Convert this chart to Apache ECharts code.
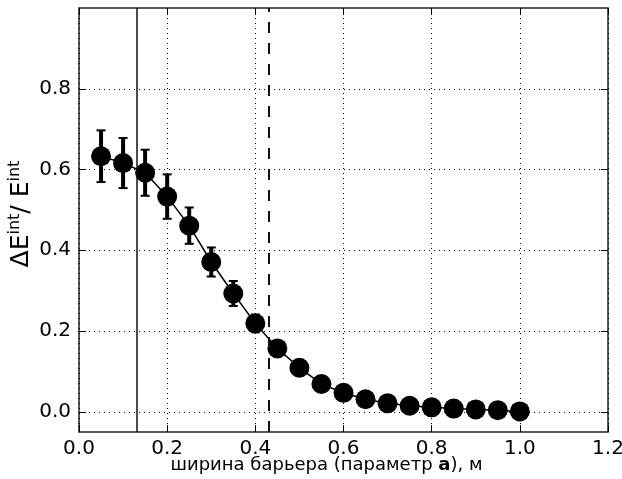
<!DOCTYPE html>
<html>
<head>
<meta charset="utf-8">
<script src="https://cdn.jsdelivr.net/npm/echarts@6/dist/echarts.min.js"></script>
<style>
html,body{margin:0;padding:0;background:#fff;}
#chart{width:622px;height:479px;}
</style>
</head>
<body>
<div id="chart"></div>
<script>
// Data
var xValues = [0.05,0.10,0.15,0.20,0.25,0.30,0.35,0.40,0.45,0.50,0.55,0.60,0.65,0.70,0.75,0.80,0.85,0.90,0.95,1.00];
var yValues = [0.633,0.616,0.592,0.533,0.461,0.371,0.293,0.219,0.157,0.109,0.069,0.047,0.031,0.021,0.015,0.011,0.008,0.006,0.004,0.001];
var yErrors = [0.064,0.062,0.057,0.055,0.045,0.036,0.031,0.022,0.015,0.011,0.008,0.006,0.004,0.003,0.002,0.002,0.001,0.001,0.001,0.001];
var xTicks = [0,0.2,0.4,0.6,0.8,1.0,1.2];
var yTicks = [0,0.2,0.4,0.6,0.8];
var solidLineX = 0.133;
var dashedLineX = 0.43;
var xTitle = ['ширина барьера (параметр ', 'a', '), м'];

var font = 'DejaVu Sans';
var lineData = xValues.map(function(x,i){return [x, yValues[i]];});
var errData = xValues.map(function(x,i){return [x, yValues[i]-yErrors[i], yValues[i]+yErrors[i]];});

var chart = echarts.init(document.getElementById('chart'), null, {renderer:'canvas'});
var gridLine = {show:true, lineStyle:{color:'#000', width:1, type:[1,4]}};
var tickStyle = {show:true, inside:true, length:7, lineStyle:{color:'#000', width:1}};
chart.setOption({
  animation:false,
  backgroundColor:'#fff',
  grid:{left:79, right:14, top:8, bottom:47, containLabel:false, outerBoundsMode:'none', show:true, borderColor:'#222', borderWidth:1.5, backgroundColor:'transparent'},
  xAxis:[{
    type:'value', min:0, max:1.2, interval:0.2,
    axisLine:{show:false, onZero:false},
    axisTick:tickStyle,
    splitLine:gridLine,
    axisLabel:{color:'#000', fontFamily:font, fontSize:20, margin:7, formatter:function(v){return v.toFixed(1);}},
    name:'{n|' + xTitle[0] + '}{b|' + xTitle[1] + '}{n|' + xTitle[2] + '}',
    nameLocation:'middle', nameGap:24, nameMoveOverlap:false,
    nameTextStyle:{padding:[0,34,0,0], rich:{n:{fontFamily:font, fontSize:18, color:'#000'}, b:{fontFamily:font, fontSize:18, fontWeight:'bold', color:'#000'}}}
  },{
    type:'value', position:'top', min:0, max:1.2, interval:0.2,
    axisLine:{show:false, onZero:false}, axisTick:tickStyle, splitLine:{show:false}, axisLabel:{show:false}
  }],
  yAxis:[{
    type:'value', min:-0.05, max:1.0,
    axisLine:{show:false, onZero:false},
    axisTick:Object.assign({}, tickStyle, {customValues:yTicks}),
    splitLine:gridLine,
    axisLabel:{customValues:yTicks, color:'#000', fontFamily:font, fontSize:20, margin:8, formatter:function(v){return v.toFixed(1);}},
    name:'{m|ΔE}{s|int}{m|/ E}{s|int}',
    nameLocation:'middle', nameGap:45, nameRotate:90, nameMoveOverlap:false,
    nameTextStyle:{padding:[0,0,0,12], rich:{
      m:{fontFamily:font, fontSize:25, color:'#000', lineHeight:27, verticalAlign:'bottom'},
      s:{fontFamily:font, fontSize:16, color:'#000', lineHeight:17, verticalAlign:'top'}
    }}
  },{
    type:'value', position:'right', min:-0.05, max:1.0,
    axisLine:{show:false, onZero:false},
    axisTick:Object.assign({}, tickStyle, {customValues:yTicks}),
    splitLine:{show:false}, axisLabel:{show:false}
  }],
  series:[{
    type:'custom',
    data:errData,
    z:3,
    renderItem:function(params, api){
      var x = api.value(0);
      var lo = api.coord([x, api.value(1)]);
      var hi = api.coord([x, api.value(2)]);
      var cw = 4.5;
      return {type:'group', children:[
        {type:'line', shape:{x1:lo[0], y1:lo[1], x2:hi[0], y2:hi[1]}, style:{stroke:'#000', lineWidth:4}},
        {type:'line', shape:{x1:lo[0]-cw, y1:lo[1], x2:lo[0]+cw, y2:lo[1]}, style:{stroke:'#000', lineWidth:2}},
        {type:'line', shape:{x1:hi[0]-cw, y1:hi[1], x2:hi[0]+cw, y2:hi[1]}, style:{stroke:'#000', lineWidth:2}}
      ]};
    }
  },{
    type:'line',
    data:lineData,
    z:4,
    symbol:'circle', symbolSize:20,
    itemStyle:{color:'#000'},
    lineStyle:{color:'#000', width:1.5},
    markLine:{
      silent:true, symbol:'none', label:{show:false},
      data:[
        {xAxis:solidLineX, lineStyle:{color:'#111', width:1.5, type:'solid'}},
        {xAxis:dashedLineX, lineStyle:{color:'#111', width:2, type:[11,10]}}
      ]
    }
  }]
});
</script>
</body>
</html>
